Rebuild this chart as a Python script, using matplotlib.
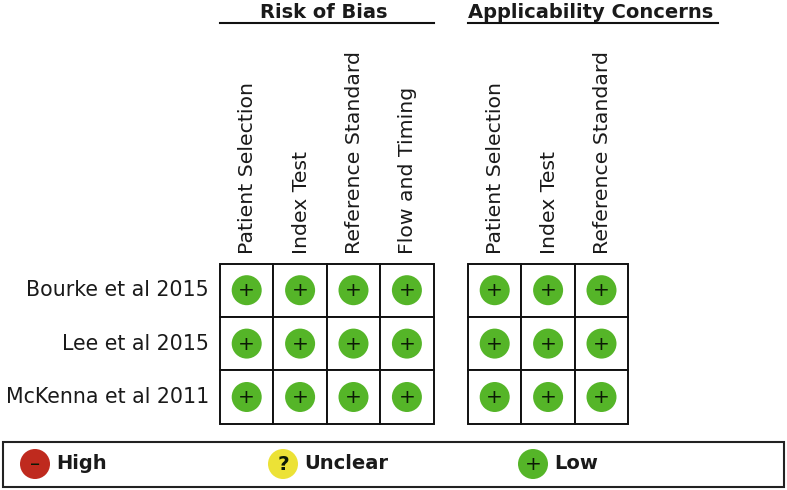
import matplotlib
matplotlib.use("Agg")
import matplotlib.pyplot as plt
from matplotlib.patches import Circle, Rectangle

# QUADAS-2 style summary
studies = ["Bourke et al 2015", "Lee et al 2015", "McKenna et al 2011"]
bias_domains = ["Patient Selection", "Index Test", "Reference Standard", "Flow and Timing"]
applic_domains = ["Patient Selection", "Index Test", "Reference Standard"]
bias_scores = [["+", "+", "+", "+"], ["+", "+", "+", "+"], ["+", "+", "+", "+"]]
applic_scores = [["+", "+", "+"], ["+", "+", "+"], ["+", "+", "+"]]
group_titles = ["Risk of Bias", "Applicability Concerns"]
legend_labels = ["High", "Unclear", "Low"]
legend_marks = ["–", "?", "+"]

colors = {"–": "#bf2a1e", "?": "#ece236", "+": "#55b528"}
TEXT = "#1a1a1a"
CELL = 53.4
TOP = 263.5
LEFTS = [220, 468]
R = 15


def marker(ax, x, y, sym, r=R):
    ax.add_patch(Circle((x, y), r, facecolor=colors[sym], edgecolor="none", zorder=2))
    # the glyphs sit a bit low with va=center, nudge them up
    weight = "bold" if sym == "?" else "normal"
    ax.text(x, y - 1.5, sym, ha="center", va="center_baseline", fontsize=14.5, color="#0c1a06",
            fontweight=weight, zorder=3)


def block(ax, left, title, domains, scores):
    ncol = len(domains)
    nrow = len(scores)
    for i, d in enumerate(domains):
        ax.text(left + (i + 0.5) * CELL + 1, TOP - 10, d, rotation=90, ha="center", va="bottom",
                fontsize=14.7, color=TEXT)
    for r in range(nrow):
        for c in range(ncol):
            ax.add_patch(Rectangle((left + c * CELL, TOP + r * CELL), CELL, CELL,
                                   facecolor="white", edgecolor="#111111", lw=1.4, zorder=1))
            marker(ax, left + (c + 0.5) * CELL, TOP + (r + 0.5) * CELL, scores[r][c])
    return ncol


fig = plt.figure(figsize=(7.87, 4.90), dpi=100)
ax = fig.add_axes([0, 0, 1, 1])
ax.set_xlim(0, 787)
ax.set_ylim(490, 0)
ax.axis("off")

block(ax, LEFTS[0], group_titles[0], bias_domains, bias_scores)
block(ax, LEFTS[1], group_titles[1], applic_domains, applic_scores)

# group headers with underline
ax.plot([220, 434], [23, 23], color="#111111", lw=1.5)
ax.plot([468, 718], [23, 23], color="#111111", lw=1.5)
ax.text(324, 12, group_titles[0], ha="center", va="center", fontsize=14, fontweight="bold", color=TEXT)
ax.text(591, 12, group_titles[1], ha="center", va="center", fontsize=14, fontweight="bold", color=TEXT)

for r, s in enumerate(studies):
    ax.text(209, TOP + (r + 0.5) * CELL, s, ha="right", va="center", fontsize=14.8, color=TEXT)

# legend box
ax.add_patch(Rectangle((3, 442), 781, 45, facecolor="white", edgecolor="#222222", lw=1.5))
for x, lab, sym in zip([35, 283, 533], legend_labels, legend_marks):
    marker(ax, x, 464, sym)
    ax.text(x + 21, 463, lab, ha="left", va="center", fontsize=14, fontweight="bold", color=TEXT)

fig.savefig("out.png", dpi=100)
